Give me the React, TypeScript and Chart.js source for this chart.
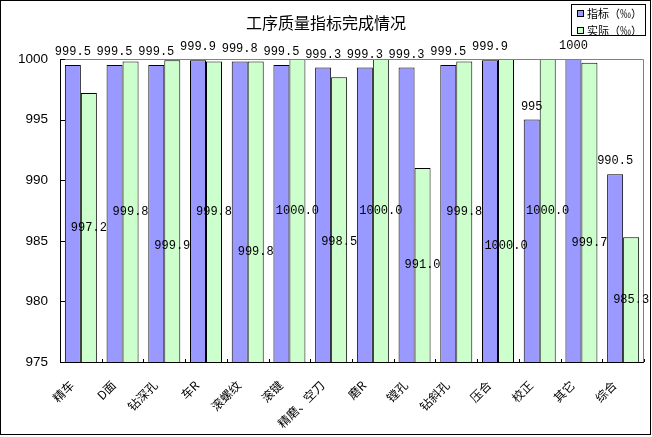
import React, { useEffect, useRef } from "react";
import { Chart, registerables } from "chart.js";

Chart.register(...registerables);

const categories = ["精车", "D面", "钻深孔", "车R", "滚螺纹", "滚键", "精磨、空刀", "磨R", "镗孔", "钻斜孔", "压合", "校正", "其它", "综合"];
const targetValues = [999.5, 999.5, 999.5, 999.9, 999.8, 999.5, 999.3, 999.3, 999.3, 999.5, 999.9, 995, 1000, 990.5];
const actualValues = [997.2, 999.8, 999.9, 999.8, 999.8, 1000.0, 998.5, 1000.0, 991.0, 999.8, 1000.0, 1000.0, 999.7, 985.3];
const seriesNames = ["指标（‰）", "实际（‰）"];
const chartTitle = "工序质量指标完成情况";
const yMin = 975;
const yMax = 1000;
const yStep = 5;

// label placement tweaks (pixels), style only
const actualLabelDrop = [0, 0, 35, 0, 40, 0, 22, 0, 0, 0, 35, 0, 31, 0];

const COLORS = ["#9999FF", "#CCFFCC"];

const decorPlugin = {
  id: "decor",
  afterDraw(chart: any) {
    const { ctx, chartArea, scales } = chart;
    const { left, right, top, bottom } = chartArea;
    const y = scales.y;
    ctx.save();

    // plot frame (top/right gray)
    ctx.lineWidth = 1;
    ctx.strokeStyle = "#808080";
    ctx.beginPath();
    ctx.moveTo(left, top + 0.5);
    ctx.lineTo(right - 0.5, top + 0.5);
    ctx.lineTo(right - 0.5, bottom);
    ctx.stroke();

    // axes
    ctx.strokeStyle = "#000";
    ctx.beginPath();
    ctx.moveTo(left + 0.5, top);
    ctx.lineTo(left + 0.5, bottom + 0.5);
    ctx.lineTo(right, bottom + 0.5);
    ctx.stroke();

    // inner y ticks
    ctx.beginPath();
    y.ticks.forEach((t: any) => {
      const py = Math.round(y.getPixelForValue(t.value)) + 0.5;
      ctx.moveTo(left, py);
      ctx.lineTo(left + 5, py);
    });
    // inner x ticks at category boundaries
    const n = categories.length;
    for (let i = 0; i <= n; i++) {
      const px = Math.round(left + ((right - left) * i) / n) + 0.5;
      ctx.moveTo(px, bottom);
      ctx.lineTo(px, bottom - 3);
    }
    ctx.stroke();

    // data labels
    ctx.fillStyle = "#000";
    ctx.font = '12px "Liberation Mono"';
    ctx.textAlign = "center";
    ctx.textBaseline = "middle";
    const basePx = y.getPixelForValue(yMin);
    const m0 = chart.getDatasetMeta(0);
    m0.data.forEach((el: any, i: number) => {
      ctx.fillText(String(targetValues[i]), el.x, el.y - 13);
    });
    const m1 = chart.getDatasetMeta(1);
    m1.data.forEach((el: any, i: number) => {
      const topPx = y.getPixelForValue(actualValues[i]);
      const cy = (topPx + basePx) / 2 + actualLabelDrop[i];
      ctx.fillText(actualValues[i].toFixed(1), el.x, cy);
    });

    // title
    ctx.font = '16px "Noto Sans CJK SC"';
    ctx.fillText(chartTitle, 326, 23);

    // legend
    ctx.strokeStyle = "#000";
    ctx.lineWidth = 1;
    ctx.strokeRect(571.5, 4.5, 74, 31);
    ctx.font = '11px "Noto Sans CJK SC"';
    ctx.textAlign = "left";
    seriesNames.forEach((name, i) => {
      const cy = 13 + i * 17;
      ctx.fillStyle = COLORS[i];
      ctx.fillRect(577, cy - 3, 6, 6);
      ctx.strokeRect(577.5, cy - 2.5, 6, 6);
      ctx.fillStyle = "#000";
      ctx.fillText(name, 587, cy + 1);
    });

    // outer border
    ctx.strokeRect(0.5, 0.5, 650, 434);
    ctx.restore();
  },
};

export default function App() {
  const ref = useRef<HTMLCanvasElement>(null);
  useEffect(() => {
    document.body.style.margin = "0";
    const canvas = ref.current;
    if (!canvas) return;
    const chart = new Chart(canvas, {
      type: "bar",
      data: {
        labels: categories,
        datasets: [
          {
            label: seriesNames[0],
            data: targetValues,
            backgroundColor: COLORS[0],
            borderColor: "#000",
            borderWidth: 1,
          },
          {
            label: seriesNames[1],
            data: actualValues,
            backgroundColor: COLORS[1],
            borderColor: "#000",
            borderWidth: 1,
          },
        ],
      },
      options: {
        responsive: false,
        animation: false,
        devicePixelRatio: 1,
        layout: { padding: { top: 59, right: 8, left: 0, bottom: 0 } },
        datasets: { bar: { categoryPercentage: 0.767, barPercentage: 1 } },
        plugins: {
          legend: { display: false },
          title: { display: false },
          tooltip: { enabled: false },
        },
        scales: {
          x: {
            grid: { display: false, drawTicks: false },
            border: { display: false },
            ticks: {
              color: "#000",
              font: { family: '"Noto Sans CJK SC"', size: 12 },
              minRotation: 45,
              maxRotation: 45,
              autoSkip: false,
              padding: 16,
              labelOffset: -9,
            },
            afterFit: (s: any) => {
              s.height = 75;
            },
          },
          y: {
            min: yMin,
            max: yMax,
            grid: { display: false, drawTicks: false },
            border: { display: false },
            ticks: {
              stepSize: yStep,
              color: "#000",
              font: { family: '"Liberation Sans"', size: 13.5 },
              padding: 12,
              callback: (v: any) => String(v),
            },
            afterFit: (s: any) => {
              s.width = 60;
            },
          },
        },
      },
      plugins: [decorPlugin],
    });
    return () => chart.destroy();
  }, []);
  return (
    <div style={{ width: 652, height: 437, background: "#fff" }}>
      <canvas ref={ref} width={652} height={437} />
    </div>
  );
}
